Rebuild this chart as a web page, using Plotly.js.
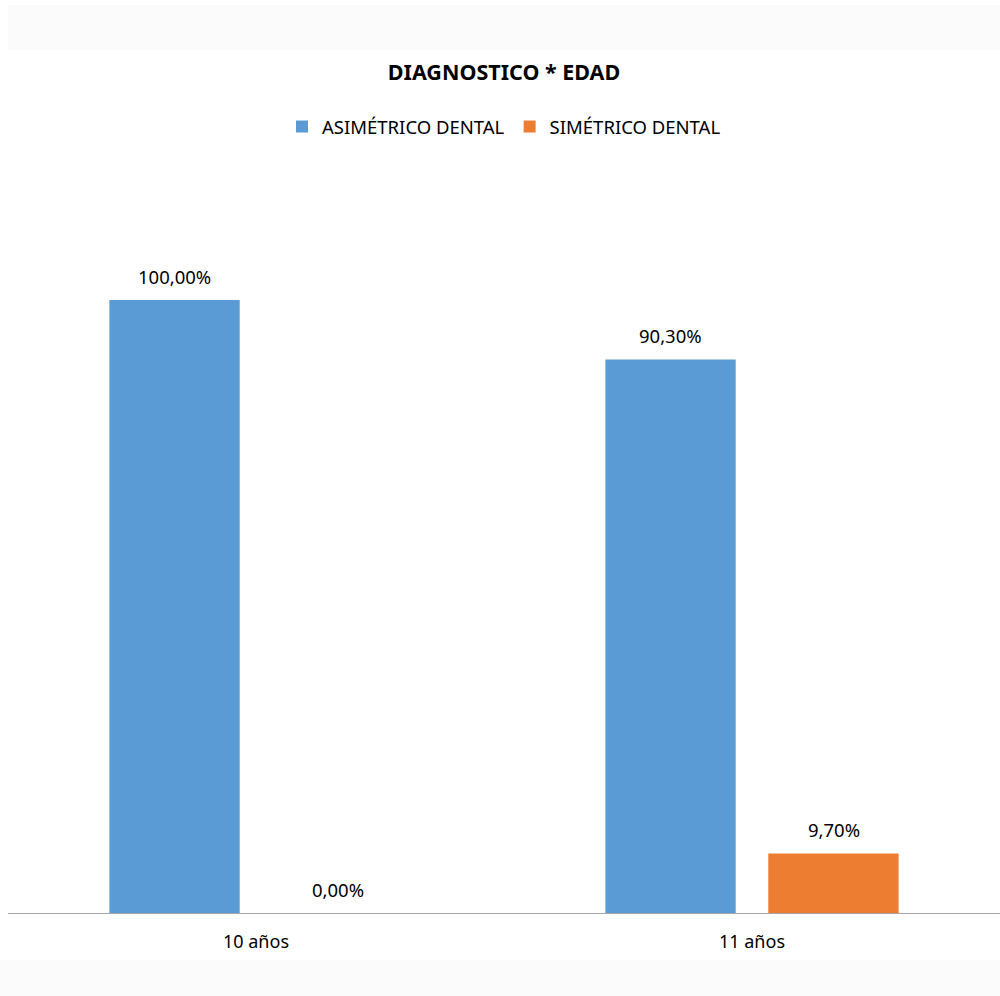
<!DOCTYPE html>
<html><head><meta charset="utf-8">
<script src="https://cdn.plot.ly/plotly-3.0.1.min.js"></script>
<style>html,body{margin:0;padding:0;background:#fff}#chart{width:1000px;height:996px}</style>
</head><body><div id="chart"></div>
<script>
const categories = ["10 años", "11 años"];
const seriesNames = ["ASIMÉTRICO DENTAL", "SIMÉTRICO DENTAL"];
const asimetrico = [100.0, 90.3];
const simetrico = [0.0, 9.7];
const colors = ["#5b9bd5", "#ed7d31"];
const FONT = "'Noto Sans', sans-serif";

function fmt(v){ return v.toFixed(2).replace('.', ',') + '%'; }

const seriesValues = [asimetrico, simetrico];
const traces = seriesValues.map((vals, i) => ({
  type: 'bar', name: seriesNames[i], x: categories, y: vals,
  marker: {color: colors[i]}, hoverinfo: 'none'
}));

const annotations = [];
seriesValues.forEach((vals, i) => {
  vals.forEach((v, j) => {
    annotations.push({
      x: categories[j], y: v, xref: 'x', yref: 'y',
      xshift: i === 0 ? -82 : 82, yshift: 24,
      text: fmt(v), showarrow: false,
      font: {family: FONT, size: 18.5, color: '#000'}
    });
  });
});

const bandColor = '#fbfbfb';
const layout = {
  width: 1000, height: 996,
  margin: {l: 8, r: 0, t: 160, b: 83, autoexpand: false},
  paper_bgcolor: '#ffffff', plot_bgcolor: 'rgba(0,0,0,0)',
  title: {text: '<b>DIAGNOSTICO * EDAD</b>', x: 0.5, xref: 'paper', yref: 'container', y: 1 - 72/996, yanchor: 'middle',
          font: {family: FONT, size: 21.5, color: '#000'}},
  showlegend: true,
  legend: {orientation: 'h', x: 0.5, xanchor: 'center', xref: 'paper', yref: 'container', y: 1 - 127/996, yanchor: 'middle',
           font: {family: FONT, size: 18.5, color: '#000'}, traceorder: 'normal'},
  barmode: 'group', bargap: 0.343, bargroupgap: 0.2,
  xaxis: {type: 'category', range: [-0.5, 1.5], showline: true, linecolor: '#a6a6a6', linewidth: 1,
          ticks: '', showgrid: false, zeroline: false, fixedrange: true,
          tickfont: {family: FONT, size: 18, color: '#000'}, ticklabelstandoff: 12},
  yaxis: {range: [0, 753/6.13], visible: false, showgrid: false, zeroline: false, fixedrange: true},
  annotations: annotations,
  shapes: [
    {type: 'rect', xref: 'paper', yref: 'paper', x0: 0, x1: 1.0, y0: (913-50)/753, y1: (913-5)/753,
     fillcolor: bandColor, line: {width: 0}, layer: 'below'},
    {type: 'rect', xref: 'paper', yref: 'paper', x0: -8/992, x1: 1.0, y0: (913-996)/753, y1: (913-960)/753,
     fillcolor: bandColor, line: {width: 0}, layer: 'below'}
  ]
};

Plotly.newPlot('chart', traces, layout, {displayModeBar: false, staticPlot: true});
</script></body></html>
